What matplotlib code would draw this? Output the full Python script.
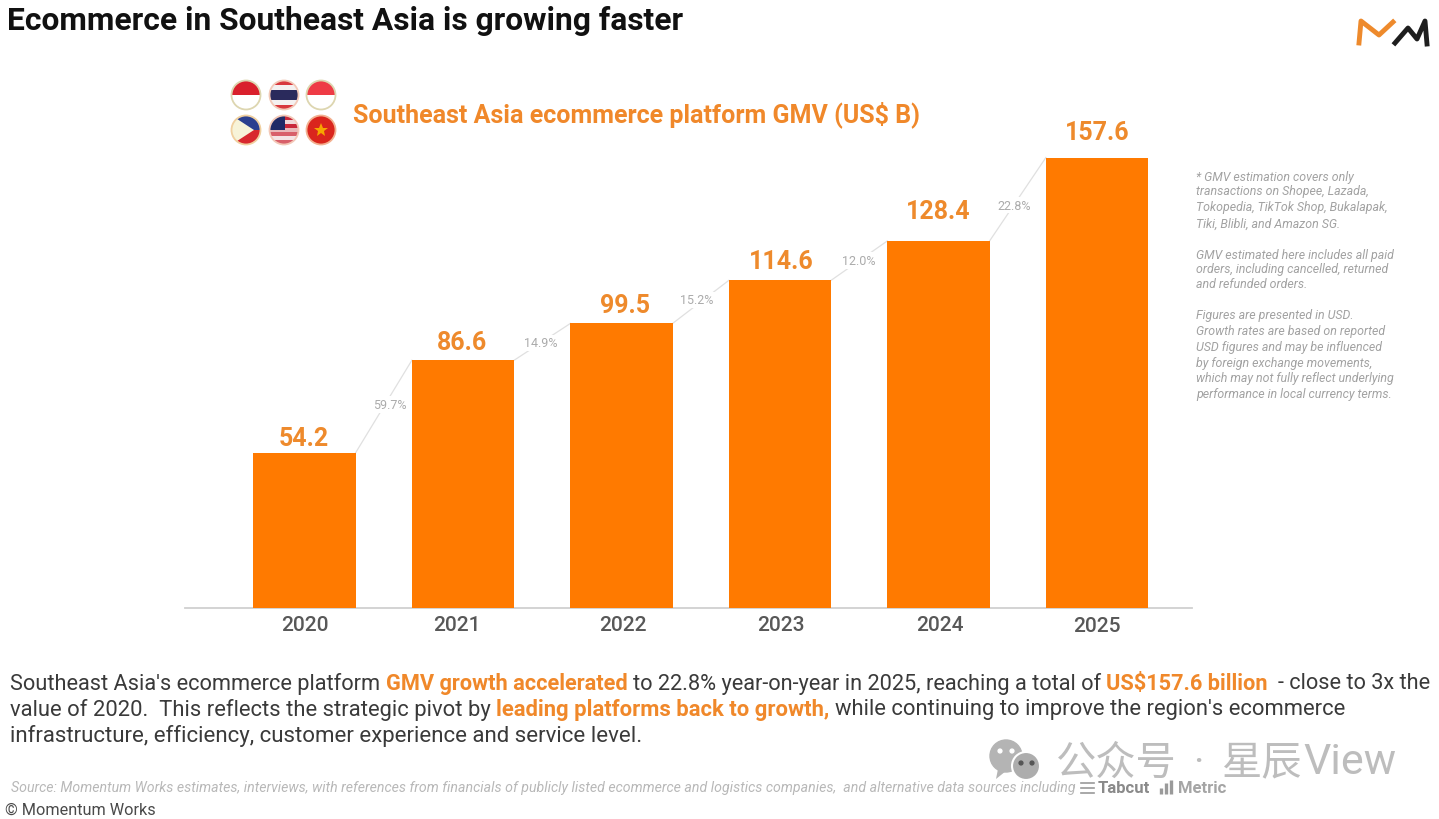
import matplotlib
matplotlib.use('Agg')
import matplotlib.pyplot as plt
from matplotlib.patches import Circle, Rectangle, Polygon
from matplotlib.transforms import ScaledTranslation

plt.rcParams['font.family'] = ['Roboto', 'Noto Sans CJK SC', 'DejaVu Sans']

years = ['2020', '2021', '2022', '2023', '2024', '2025']
gmv = [54.2, 86.6, 99.5, 114.6, 128.4, 157.6]
growth = ['59.7%', '14.9%', '15.2%', '12.0%', '22.8%']

# small hand placement offsets, in pixels (x right, y up)
value_nudge = [(-1, -6), (-1, -2), (3, -2), (1, -1), (0, 10), (0, 5)]
growth_nudge = [(6, 2), (-2, -1), (-4, 2), (-1, 0), (-4, -6)]
tick_nudge = [(0, 1), (-6, 1), (1, 1), (1, 1), (1, 1), (0, 0)]

ORANGE = '#FF7A00'
LABEL = '#EE8A2C'
W, H = 1439, 820

fig = plt.figure(figsize=(W / 100, H / 100), dpi=100, facecolor='white')


def px(dx, dy):
    return ScaledTranslation(dx / 100, dy / 100, fig.dpi_scale_trans)


# chart axes: baseline at y=608.5 px, x from 185 to 1192 px
ax = fig.add_axes([185 / W, (H - 608.5) / H, (1192 - 185) / W, 508 / H])
ax.set_xlim((185 - 304.5) / 158.5, (1192 - 304.5) / 158.5)
ax.set_ylim(0, 508 / 2.855)
xs = list(range(len(years)))
bw = 0.645
ax.bar(xs, gmv, width=bw, color=ORANGE, zorder=3)
for s in ['top', 'left', 'right']:
    ax.spines[s].set_visible(False)
ax.spines['bottom'].set_color('#D0D0D0')
ax.spines['bottom'].set_linewidth(1.3)
ax.set_yticks([])
ax.set_xticks(xs)
ax.set_xticklabels(years, fontsize=15, fontweight='medium', color='#585858')
ax.tick_params(axis='x', length=0, pad=6)
ax.patch.set_alpha(0)
for lab, (dx, dy) in zip(ax.get_xticklabels(), tick_nudge):
    lab.set_transform(lab.get_transform() + px(dx, dy))

for x, v, (dx, dy) in zip(xs, gmv, value_nudge):
    ax.annotate(f'{v:.1f}', (x, v), xytext=(dx * 0.72, 6 + dy * 0.72), textcoords='offset points',
                ha='center', va='bottom', fontsize=18, fontweight='bold', color=LABEL)

for i, g in enumerate(growth):
    x0, x1 = i + bw / 2, i + 1 - bw / 2
    y0, y1 = gmv[i], gmv[i + 1]
    ax.plot([x0, x1], [y0, y1], color='#E0E0E0', lw=0.9, zorder=1)
    dx, dy = growth_nudge[i]
    ax.annotate(g, ((x0 + x1) / 2, (y0 + y1) / 2), xytext=(dx * 0.72, dy * 0.72),
                textcoords='offset points', ha='center', va='center', fontsize=9,
                color='#ABABAB', zorder=2,
                bbox=dict(facecolor='white', edgecolor='none', pad=1.2))

# overlay in pixel coordinates
ov = fig.add_axes([0, 0, 1, 1], zorder=5)
ov.set_xlim(0, W)
ov.set_ylim(H, 0)
ov.axis('off')
ov.patch.set_alpha(0)

ov.text(7, 21, 'Ecommerce in Southeast Asia is growing faster', fontsize=22.85,
        fontweight='bold', color='#111111', va='center')
ov.text(353, 115, 'Southeast Asia ecommerce platform GMV (US$ B)', fontsize=18,
        fontweight='bold', color='#F0882A', va='center')


def advance(txt, size, weight):
    rend = fig.canvas.get_renderer()
    a = ov.text(0, 0, '|' + txt + '|', fontsize=size, fontweight=weight, alpha=0)
    b = ov.text(0, 0, '||', fontsize=size, fontweight=weight, alpha=0)
    w = a.get_window_extent(rend).width - b.get_window_extent(rend).width
    a.remove()
    b.remove()
    return w


def runs(x, y, parts, size, dark='#3A3A3A', hi='#F0882A'):
    """Draw a line of text made of plain and highlighted runs."""
    for txt, on in parts:
        weight = 'bold' if on else 'normal'
        lead = len(txt) - len(txt.lstrip(' '))
        body = txt.lstrip(' ')
        x += advance(' ' * lead, size, weight) if lead else 0
        ov.text(x, y, body.rstrip(' '), fontsize=size, va='center', color=hi if on else dark,
                fontweight=weight)
        x += advance(body, size, weight)


runs(10, 684, [("Southeast Asia's ecommerce platform ", False), ("GMV growth accelerated", True),
               (" to 22.8% year-on-year in 2025, reaching a total of ", False),
               ("US$157.6 billion ", True), (" - close to 3x the", False)], 15.65)
runs(10, 710, [("value of 2020.  This reflects the strategic pivot by ", False),
               ("leading platforms back to growth,", True),
               (" while continuing to improve the region's ecommerce", False)], 15.8)
runs(10, 736, [("infrastructure, efficiency, customer experience and service level.", False)], 16)

notes = [(177, "* GMV estimation covers only"), (192, "transactions on Shopee, Lazada,"),
         (208, "Tokopedia, TikTok Shop, Bukalapak,"), (224, "Tiki, Blibli, and Amazon SG."),
         (255, "GMV estimated here includes all paid"), (270, "orders, including cancelled, returned"),
         (285, "and refunded orders."),
         (316, "Figures are presented in USD."), (332, "Growth rates are based on reported"),
         (348, "USD figures and may be influenced"), (364, "by foreign exchange movements,"),
         (379, "which may not fully reflect underlying"), (395, "performance in local currency terms.")]
for y, s in notes:
    ov.text(1196, y, s, fontsize=8.9, style='italic', color='#A2A2A2', va='center')

ov.text(11, 788, "Source: Momentum Works estimates, interviews, with references from financials of publicly "
        "listed ecommerce and logistics companies,  and alternative data sources including",
        fontsize=10.2, style='italic', color='#B8B8B8', va='center')
ov.text(1098, 789, 'Tabcut', fontsize=12, fontweight='bold', color='#8A8A8A', va='center')
ov.text(1178, 789, 'Metric', fontsize=12, fontweight='bold', color='#A5A5A5', va='center')
for yy in (784, 789, 794):
    ov.plot([1081, 1094], [yy, yy], color='#9A9A9A', lw=1.2)
for xx, top in ((1161, 789), (1166, 784), (1171, 781)):
    ov.plot([xx, xx], [795, top], color='#9A9A9A', lw=2.4, solid_capstyle='butt')
ov.text(5, 810, '© Momentum Works', fontsize=11.7, color='#4A4A4A', va='center')

# watermark
ov.add_patch(Circle((1006, 757), 16, color='#B4B4B4', zorder=6))
ov.add_patch(Polygon([(998, 770), (996, 780), (1006, 772)], color='#B4B4B4', lw=0, zorder=6))
ov.add_patch(Circle((1026, 767), 14, color='#ADADAD', ec='white', lw=1.5, zorder=7))
for cx, cy, c in ((1000, 752, 'white'), (1012, 752, 'white'), (1021, 764, '#555555'), (1032, 764, '#555555')):
    ov.add_patch(Circle((cx, cy), 1.9, color=c, zorder=8))
ov.text(1056, 763, '公众号', fontsize=29, color='#BDBDBD', va='center')
ov.text(1193, 763, '·', fontsize=29, color='#BDBDBD', va='center')
ov.text(1222, 763, '星辰', fontsize=29, color='#BDBDBD', va='center')
ov.text(1303, 763, 'View', fontsize=31, color='#BDBDBD', va='center')

# flags
R = 14.5


def flag(cx, cy, bands, ring=None):
    clip = Circle((cx, cy), R, transform=ov.transData)
    y = cy - R
    for frac, c in bands:
        r = Rectangle((cx - R, y), 2 * R, frac * 2 * R, color=c, lw=0, zorder=6)
        ov.add_patch(r)
        r.set_clip_path(clip)
        y += frac * 2 * R
    if ring:
        ov.add_patch(Circle((cx, cy), R, fill=False, ec=ring, lw=1.3, zorder=7))


flag(246, 96, [(0.5, '#D9202C'), (0.5, '#FFFFFF')], '#DDD6B0')
flag(284, 96, [(1 / 6, '#D8383E'), (1 / 6, '#F4F0F0'), (1 / 3, '#2A2A5C'), (1 / 6, '#F4F0F0'), (1 / 6, '#D8383E')], '#F3C9B8')
flag(321, 96, [(0.5, '#EE3B45'), (0.5, '#FFFFFF')], '#DDD6B0')
flag(246, 131, [(0.5, '#2A3F8F'), (0.5, '#D8282E')], '#F0D0A0')
clip = Circle((246, 131), R, transform=ov.transData)
tri = Polygon([(231, 116), (231, 146), (254, 131)], color='#F7F3D8', lw=0, zorder=6.5)
ov.add_patch(tri)
tri.set_clip_path(clip)
flag(284, 131, [(1 / 7, '#C9283A'), (1 / 7, '#F0D8D8'), (1 / 7, '#C9283A'), (1 / 7, '#E9B8B8'), (1 / 7, '#D8606A'),
                (1 / 7, '#F4E4E4'), (1 / 7, '#D8606A')], '#F3C9B8')
clip2 = Circle((284, 131), R, transform=ov.transData)
can = Rectangle((269, 116), 16, 15, color='#1F2A66', lw=0, zorder=6.5)
ov.add_patch(can)
can.set_clip_path(clip2)
flag(321, 131, [(1, '#DA251D')], '#F3B090')
ov.plot([321], [131], marker='*', ms=10, color='#F7A600', mew=0, zorder=8)

# logo
ov.plot([1359, 1361, 1379, 1393], [44, 22, 36, 23], color='#EE8A2C', lw=3.5, solid_joinstyle='round')
ov.plot([1395, 1408, 1417, 1425, 1427], [44, 29, 40, 22, 45], color='#1E1E1E', lw=3.5, solid_joinstyle='round')

fig.savefig('out.png', dpi=100, facecolor='white')
